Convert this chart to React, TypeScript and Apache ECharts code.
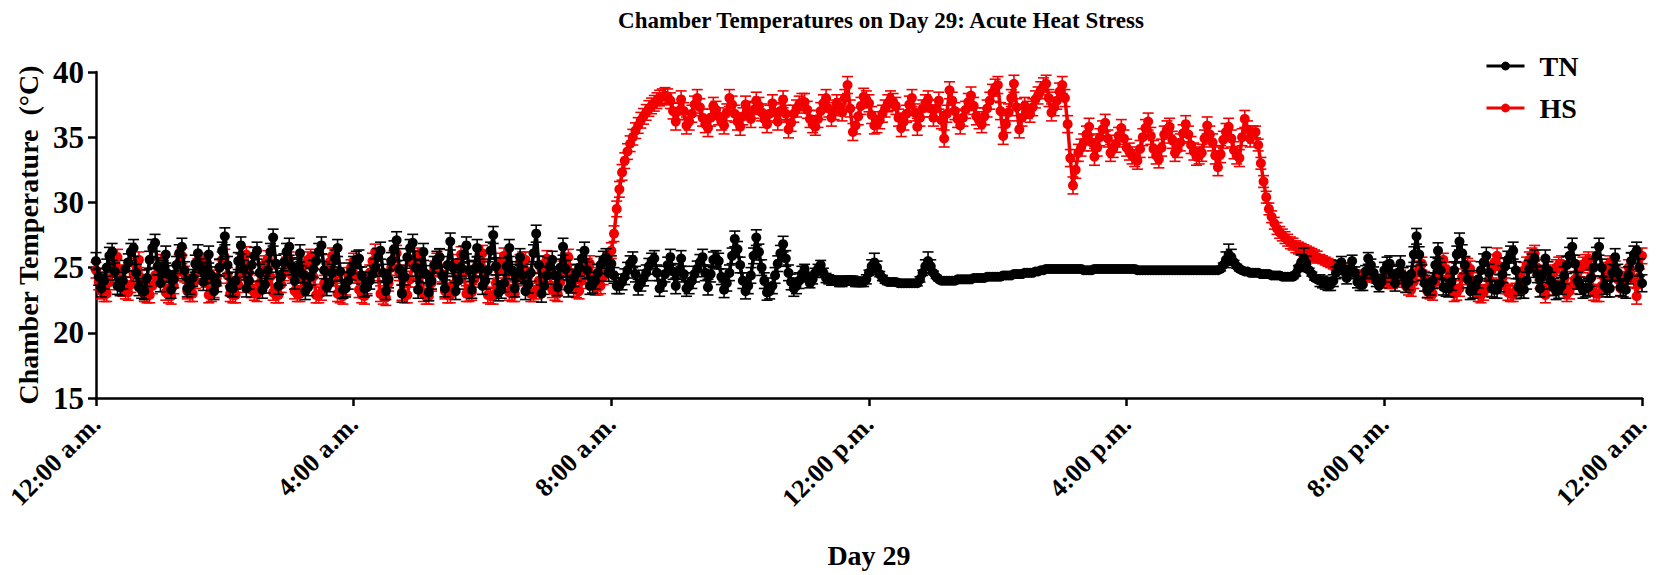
import React, { useEffect, useRef } from "react";
import * as echarts from "echarts";

// sampling step of the series (minutes)
const STEP_MIN = 2.5;

const xTickLabels = ["12:00 a.m.", "4:00 a.m.", "8:00 a.m.", "12:00 p.m.", "4:00 p.m.", "8:00 p.m.", "12:00 a.m."];
const yTicks = [15, 20, 25, 30, 35, 40];

// TN chamber temperature (°C), one value every 2.5 min from 12:00 a.m. to 12:00 a.m. (one row per hour)
const tnTemps = [
  25.5, 24.3, 23.4, 24.0, 25.0, 25.9, 26.2, 24.7, 23.6, 23.5, 24.0, 24.9, 25.4, 26.2, 26.5, 24.6, 23.5, 23.3, 23.2, 24.2, 25.6, 26.5, 26.9, 25.1,
  23.8, 24.9, 26.0, 24.5, 23.3, 24.1, 25.2, 26.1, 26.6, 24.8, 23.4, 23.6, 24.2, 25.3, 26.1, 25.0, 23.9, 24.8, 26.0, 24.4, 23.2, 23.8, 25.0, 26.3,
  27.4, 25.2, 23.5, 23.4, 24.0, 25.5, 26.7, 24.9, 23.4, 24.0, 25.2, 25.9, 26.3, 24.6, 23.3, 23.7, 24.8, 26.2, 27.3, 25.3, 23.6, 24.3, 25.4, 26.2,
  26.6, 25.1, 24.0, 25.0, 26.1, 24.5, 23.2, 23.5, 24.3, 24.9, 25.5, 26.2, 26.7, 24.8, 23.5, 23.8, 24.6, 25.7, 26.5, 24.7, 23.3, 23.4, 24.0, 24.7,
  25.2, 25.6, 25.7, 24.4, 23.4, 23.5, 24.0, 24.5, 25.0, 25.8, 26.3, 24.6, 23.2, 24.1, 25.5, 26.4, 27.1, 24.9, 23.0, 24.3, 25.8, 26.5, 26.9, 25.0,
  23.3, 24.9, 26.2, 24.5, 23.1, 24.0, 25.2, 25.6, 25.8, 24.4, 23.4, 25.2, 27.0, 25.0, 23.2, 24.0, 25.0, 26.0, 26.7, 24.8, 23.3, 24.9, 26.5, 25.0,
  23.6, 24.0, 24.8, 26.3, 27.5, 25.1, 23.1, 23.3, 23.8, 25.1, 26.5, 24.8, 23.4, 24.6, 25.8, 24.4, 23.2, 23.7, 24.6, 26.1, 27.6, 25.2, 23.0, 23.6,
  24.4, 25.1, 25.6, 24.4, 23.5, 25.0, 26.6, 24.9, 23.4, 23.7, 24.2, 24.6, 25.0, 25.7, 26.3, 24.8, 23.6, 23.7, 24.0, 24.6, 25.2, 25.6, 25.8, 24.6,
  25.3, 24.4, 23.6, 23.6, 23.9, 24.3, 24.8, 25.3, 25.6, 24.5, 23.5, 23.8, 24.2, 24.6, 25.1, 25.5, 25.7, 24.6, 23.4, 23.8, 24.5, 25.2, 25.8, 24.7,
  23.6, 24.7, 25.7, 24.5, 23.4, 23.6, 24.0, 24.5, 24.9, 25.4, 25.8, 24.6, 23.5, 24.5, 25.6, 25.7, 25.5, 24.3, 23.3, 23.8, 24.6, 25.9, 27.2, 26.4,
  25.2, 24.0, 23.2, 23.6, 24.4, 25.9, 27.3, 26.2, 25.0, 24.0, 23.1, 23.2, 23.6, 24.4, 25.3, 26.1, 26.8, 25.7, 24.6, 23.9, 23.4, 23.6, 24.0, 24.5,
  24.9, 24.3, 23.8, 24.1, 24.6, 24.9, 25.2, 24.6, 24.2, 24.1, 24.0, 24.0, 24.0, 23.9, 23.9, 24.0, 24.0, 24.0, 24.0, 23.9, 23.9, 23.9, 23.9, 24.1,
  24.6, 25.1, 25.4, 25.0, 24.5, 24.2, 24.0, 23.9, 23.9, 23.9, 23.9, 23.8, 23.8, 23.8, 23.8, 23.8, 23.8, 23.8, 23.8, 24.1, 24.6, 25.1, 25.5, 25.1,
  24.6, 24.3, 24.1, 24.0, 24.0, 24.0, 24.0, 24.0, 24.0, 24.1, 24.1, 24.1, 24.1, 24.1, 24.1, 24.2, 24.2, 24.2, 24.2, 24.2, 24.3, 24.3, 24.3, 24.3,
  24.3, 24.3, 24.4, 24.4, 24.4, 24.4, 24.5, 24.5, 24.5, 24.5, 24.6, 24.6, 24.6, 24.6, 24.7, 24.7, 24.8, 24.8, 24.9, 24.9, 24.9, 24.9, 24.9, 24.9,
  24.9, 24.9, 24.9, 24.9, 24.9, 24.9, 24.9, 24.9, 24.8, 24.8, 24.8, 24.8, 24.9, 24.9, 24.9, 24.9, 24.9, 24.9, 24.9, 24.9, 24.9, 24.9, 24.9, 24.9,
  24.9, 24.9, 24.9, 24.9, 24.8, 24.8, 24.8, 24.8, 24.8, 24.8, 24.8, 24.8, 24.8, 24.8, 24.8, 24.8, 24.8, 24.8, 24.8, 24.8, 24.8, 24.8, 24.8, 24.8,
  24.8, 24.8, 24.8, 24.8, 24.8, 24.8, 24.8, 24.8, 24.8, 24.8, 24.8, 24.9, 25.2, 25.6, 26.0, 25.8, 25.4, 25.1, 24.9, 24.8, 24.7, 24.7, 24.6, 24.6,
  24.6, 24.6, 24.5, 24.5, 24.5, 24.5, 24.4, 24.4, 24.4, 24.4, 24.3, 24.3, 24.3, 24.3, 24.3, 24.5, 25.0, 25.4, 25.7, 25.3, 24.8, 24.5, 24.2, 24.1,
  24.0, 23.9, 23.8, 23.7, 23.7, 24.0, 24.6, 25.1, 25.4, 24.7, 24.2, 24.9, 25.5, 24.6, 23.9, 23.7, 23.7, 24.7, 25.7, 25.2, 24.6, 24.0, 23.6, 23.9,
  24.8, 25.2, 25.3, 24.5, 23.8, 24.6, 25.3, 24.4, 23.7, 23.9, 24.5, 26.0, 27.4, 26.0, 24.6, 23.8, 23.3, 23.5, 24.0, 25.2, 26.3, 24.8, 23.5, 23.4,
  23.4, 23.9, 24.8, 26.0, 27.0, 26.1, 25.2, 24.1, 23.2, 23.3, 23.6, 24.1, 24.8, 25.4, 25.9, 24.6, 23.4, 23.3, 23.3, 23.8, 24.5, 25.1, 25.6, 26.0,
  26.3, 24.8, 23.5, 23.3, 23.3, 24.0, 24.9, 25.4, 25.7, 24.5, 23.4, 24.5, 25.7, 24.8, 24.0, 23.5, 23.2, 23.3, 23.6, 24.4, 25.2, 25.9, 26.6, 25.3,
  24.0, 23.6, 23.3, 23.4, 23.5, 24.2, 25.0, 25.9, 26.6, 25.0, 23.6, 23.4, 23.4, 24.6, 25.8, 24.6, 23.5, 23.4, 23.3, 24.4, 25.5, 26.0, 26.3, 25.0,
  23.8,
];

// HS chamber temperature (°C), one value every 2.5 min (one row per hour)
const hsTemps = [
  24.8, 23.9, 23.2, 23.0, 23.0, 23.9, 24.9, 25.5, 25.8, 24.5, 23.4, 23.2, 23.1, 23.7, 24.5, 25.1, 25.6, 24.2, 23.0, 22.9, 22.9, 23.6, 24.4, 25.0,
  25.4, 24.2, 23.1, 22.9, 22.8, 23.6, 24.6, 25.4, 25.9, 24.5, 23.2, 23.0, 23.0, 24.0, 25.1, 25.4, 25.5, 24.1, 22.9, 23.0, 23.3, 24.2, 25.0, 25.6,
  25.8, 24.4, 23.0, 22.9, 22.9, 23.7, 24.7, 25.5, 26.0, 24.6, 23.3, 23.1, 23.0, 23.8, 24.8, 25.3, 25.7, 24.3, 23.1, 22.9, 22.9, 23.7, 24.6, 25.2,
  25.6, 24.4, 23.2, 23.0, 23.0, 24.1, 25.2, 25.6, 25.8, 24.3, 22.9, 22.9, 23.1, 23.8, 24.7, 25.4, 25.9, 24.4, 23.0, 22.9, 22.8, 23.5, 24.4, 25.0,
  25.5, 24.4, 23.3, 22.9, 22.8, 23.6, 24.6, 25.5, 26.2, 24.6, 23.0, 22.8, 22.7, 23.8, 25.0, 25.7, 26.1, 24.6, 23.1, 22.9, 22.9, 24.1, 25.3, 25.7,
  25.9, 24.4, 23.0, 22.8, 22.8, 23.8, 24.9, 25.5, 25.8, 24.5, 23.2, 22.9, 22.9, 23.7, 24.6, 25.4, 26.0, 24.5, 23.0, 23.0, 23.1, 24.1, 25.2, 25.7,
  26.1, 24.5, 22.9, 22.8, 22.8, 23.8, 24.8, 25.5, 25.9, 24.5, 23.1, 23.0, 23.0, 24.2, 25.4, 25.6, 25.6, 24.3, 23.0, 23.0, 23.2, 24.0, 24.8, 25.3,
  25.7, 24.5, 23.3, 23.1, 23.0, 23.9, 24.9, 25.5, 25.8, 24.6, 23.4, 23.3, 23.2, 24.0, 24.7, 25.1, 25.3, 24.4, 23.5, 23.5, 23.6, 24.3, 25.0, 25.6,
  26.3, 27.6, 29.5, 31.0, 32.3, 33.2, 33.9, 34.5, 35.0, 35.5, 35.9, 36.3, 36.6, 36.9, 37.2, 37.4, 37.6, 37.8, 38.0, 38.1, 38.2, 38.1, 37.8, 37.0,
  36.2, 37.0, 37.9, 37.0, 35.9, 36.2, 36.8, 37.5, 38.0, 37.3, 36.5, 36.0, 35.7, 36.5, 37.4, 37.1, 36.6, 36.2, 35.9, 36.9, 38.0, 37.5, 36.8, 36.2,
  35.8, 36.6, 37.5, 37.0, 36.4, 37.1, 37.8, 37.4, 36.9, 36.4, 36.0, 36.8, 37.6, 36.9, 36.2, 37.0, 37.9, 36.8, 35.6, 36.1, 36.8, 37.2, 37.5, 37.7,
  37.7, 37.1, 36.4, 36.0, 35.8, 36.4, 37.0, 37.6, 38.0, 37.2, 36.5, 37.0, 37.6, 37.3, 36.9, 38.0, 39.0, 37.2, 35.4, 35.9, 36.6, 37.4, 38.1, 37.9,
  37.6, 36.7, 35.9, 36.0, 36.3, 36.8, 37.2, 37.6, 37.9, 37.7, 37.4, 36.5, 35.7, 36.2, 36.8, 37.5, 38.0, 36.9, 35.8, 36.5, 37.2, 37.6, 37.9, 37.2,
  36.5, 37.2, 37.8, 36.3, 34.9, 36.8, 38.6, 37.8, 37.0, 36.4, 35.9, 36.5, 37.1, 37.7, 38.2, 37.4, 36.6, 36.3, 36.0, 36.6, 37.2, 37.8, 38.4, 38.8,
  39.0, 37.0, 35.1, 36.0, 36.9, 38.0, 39.1, 37.3, 35.6, 36.5, 37.4, 37.1, 36.8, 37.3, 37.9, 38.2, 38.6, 38.9, 39.1, 38.0, 36.9, 37.3, 37.8, 38.5,
  39.0, 38.0, 36.0, 33.4, 31.3, 32.5, 33.8, 34.2, 34.6, 35.2, 35.8, 34.6, 33.5, 34.2, 35.0, 35.6, 36.1, 34.9, 33.8, 34.1, 34.5, 35.1, 35.7, 34.9,
  34.2, 33.9, 33.6, 33.4, 33.2, 34.1, 35.0, 35.7, 36.2, 35.1, 34.1, 33.6, 33.3, 34.2, 35.2, 35.6, 35.8, 34.8, 33.8, 34.1, 34.6, 35.3, 36.0, 35.2,
  34.4, 33.9, 33.5, 33.6, 33.8, 34.9, 35.9, 35.2, 34.6, 33.6, 32.7, 33.7, 34.8, 35.4, 35.8, 34.9, 34.0, 33.6, 33.4, 35.0, 36.4, 35.6, 34.9, 35.2,
  35.4, 34.4, 33.0, 31.6, 30.4, 29.5, 28.9, 28.4, 28.0, 27.7, 27.5, 27.3, 27.1, 26.9, 26.8, 26.6, 26.5, 26.4, 26.3, 26.2, 26.1, 26.0, 25.9, 25.8,
  25.7, 25.6, 25.5, 25.4, 25.3, 25.2, 25.1, 25.0, 24.9, 24.8, 24.8, 24.7, 24.6, 24.5, 24.5, 24.4, 24.4, 24.3, 24.3, 24.2, 24.2, 24.1, 24.1, 24.0,
  24.0, 24.0, 23.9, 23.9, 24.0, 24.2, 24.3, 24.0, 23.6, 23.4, 23.3, 23.9, 24.6, 25.0, 25.3, 24.2, 23.2, 23.1, 23.0, 23.9, 24.8, 25.3, 25.6, 24.9,
  24.2, 23.5, 23.0, 23.1, 23.4, 24.3, 25.2, 25.1, 24.9, 24.0, 23.3, 23.0, 22.9, 23.1, 23.4, 24.1, 24.8, 25.4, 25.9, 25.1, 24.2, 23.6, 23.1, 23.0,
  23.0, 23.2, 23.6, 24.2, 24.8, 25.2, 25.6, 25.9, 26.1, 25.0, 24.0, 23.4, 22.9, 23.5, 24.1, 24.6, 25.0, 25.2, 25.3, 24.1, 23.0, 23.2, 23.6, 24.1,
  24.6, 24.9, 25.2, 25.4, 25.6, 24.3, 23.1, 23.0, 23.0, 23.6, 24.2, 24.8, 25.3, 25.1, 24.9, 24.1, 23.4, 23.9, 24.4, 25.0, 25.5, 24.1, 22.8, 24.3,
  25.9,
];

// SEM (°C) per hour of the day
const tnSemByHour = [0.65, 0.65, 0.65, 0.65, 0.65, 0.65, 0.65, 0.65, 0.6, 0.6, 0.6, 0.35, 0.2, 0.12, 0.12, 0.12, 0.12, 0.15, 0.15, 0.45, 0.6, 0.65, 0.65, 0.65];
const hsSemByHour = [0.6, 0.6, 0.6, 0.6, 0.6, 0.6, 0.6, 0.6, 0.6, 0.65, 0.65, 0.65, 0.65, 0.65, 0.65, 0.65, 0.65, 0.65, 0.45, 0.3, 0.5, 0.6, 0.6, 0.6];
// SEM (°C) around the isolated TN spikes in the quiet afternoon: [minute, sem]
const tnSemSpikes = [
  [722.5, 0.5], [725, 0.7], [727.5, 0.5],
  [772.5, 0.5], [775, 0.7], [777.5, 0.5],
  [1052.5, 0.6], [1055, 0.8], [1057.5, 0.6],
  [1122.5, 0.6], [1125, 0.8], [1127.5, 0.6],
];

const FONT = "'Liberation Serif', 'Times New Roman', serif";
const RED = "#f20000";
const BLACK = "#000000";

function lineData(vals: number[]) {
  return vals.map((v, i) => [i * STEP_MIN, v]);
}
function errData(vals: number[], sem: number[], spikes: number[][]) {
  return vals.map((v, i) => {
    const t = i * STEP_MIN;
    const h = Math.min(23, Math.floor(t / 60));
    const sp = spikes.find((s) => Math.abs(s[0] - t) < 0.01);
    const e = sp ? sp[1] : sem[h];
    return [t, v - e, v + e];
  });
}

function errRender(color: string) {
  return (params: any, api: any) => {
    const x = api.value(0);
    const lo = api.coord([x, api.value(1)]);
    const hi = api.coord([x, api.value(2)]);
    const hw = 5.5;
    const style = { stroke: color, lineWidth: 1.6 };
    return {
      type: "group",
      children: [
        { type: "line", shape: { x1: lo[0], y1: lo[1], x2: hi[0], y2: hi[1] }, style },
        { type: "line", shape: { x1: hi[0] - hw, y1: hi[1], x2: hi[0] + hw, y2: hi[1] }, style },
        { type: "line", shape: { x1: lo[0] - hw, y1: lo[1], x2: lo[0] + hw, y2: lo[1] }, style },
      ],
    };
  };
}

export default function App() {
  const ref = useRef<HTMLDivElement>(null);
  useEffect(() => {
    if (!ref.current) return;
    const chart = echarts.init(ref.current, null, { renderer: "svg" });
    const axisLine = { show: true, lineStyle: { color: "#000", width: 2.5 } };
    const axisTick = { show: true, length: 8, lineStyle: { color: "#000", width: 2.5 } };
    const lineSeries = (name: string, color: string, z: number, vals: number[]) => ({
      name,
      type: "line",
      z,
      color,
      symbol: "circle",
      symbolSize: 10,
      showSymbol: true,
      showAllSymbol: true,
      lineStyle: { color, width: 3.5 },
      itemStyle: { color },
      data: lineData(vals),
    });
    chart.setOption({
      animation: false,
      backgroundColor: "#fff",
      title: {
        text: "Chamber Temperatures on Day 29: Acute Heat Stress",
        left: 876,
        textAlign: "center",
        top: 4,
        textStyle: { fontFamily: FONT, fontWeight: "bold", fontSize: 23, color: "#000" },
      },
      legend: {
        orient: "vertical",
        left: 1480,
        top: 47,
        itemGap: 14,
        itemWidth: 38,
        itemHeight: 11,
        lineStyle: { width: 3 },
        data: ["TN", "HS"],
        textStyle: { fontFamily: FONT, fontWeight: "bold", fontSize: 28, color: "#000", padding: [0, 0, 0, 10] },
      },
      grid: { left: 96, right: 16, top: 72, bottom: 177, containLabel: false, outerBoundsMode: "none" },
      xAxis: {
        type: "value",
        min: 0,
        max: 1440,
        interval: 240,
        name: "Day 29",
        nameLocation: "middle",
        nameGap: 143,
        nameTextStyle: { fontFamily: FONT, fontWeight: "bold", fontSize: 28, color: "#000" },
        axisLine,
        axisTick,
        splitLine: { show: false },
        axisLabel: {
          rotate: 45,
          margin: 22,
          fontFamily: FONT,
          fontWeight: "bold",
          fontSize: 26,
          color: "#000",
          formatter: (v: number) => xTickLabels[Math.round(v / 240)] ?? "",
        },
      },
      yAxis: {
        type: "value",
        min: yTicks[0],
        max: yTicks[yTicks.length - 1],
        interval: 5,
        name: "Chamber Temperature  (°C)",
        nameLocation: "middle",
        nameGap: 54,
        nameTextStyle: { fontFamily: FONT, fontWeight: "bold", fontSize: 28, color: "#000" },
        axisLine,
        axisTick,
        splitLine: { show: false },
        axisLabel: { margin: 12, fontFamily: FONT, fontWeight: "bold", fontSize: 31, color: "#000" },
      },
      series: [
        {
          name: "HS-err",
          type: "custom",
          z: 2,
          silent: true,
          renderItem: errRender(RED),
          encode: { x: 0, y: [1, 2] },
          data: errData(hsTemps, hsSemByHour, []),
        },
        lineSeries("HS", RED, 3, hsTemps),
        {
          name: "TN-err",
          type: "custom",
          z: 4,
          silent: true,
          renderItem: errRender(BLACK),
          encode: { x: 0, y: [1, 2] },
          data: errData(tnTemps, tnSemByHour, tnSemSpikes),
        },
        lineSeries("TN", BLACK, 5, tnTemps),
      ],
    });
    return () => chart.dispose();
  }, []);
  return (
    <div
      ref={ref}
      style={{ position: "fixed", left: 0, top: 0, width: 1658, height: 575, background: "#fff" }}
    />
  );
}
